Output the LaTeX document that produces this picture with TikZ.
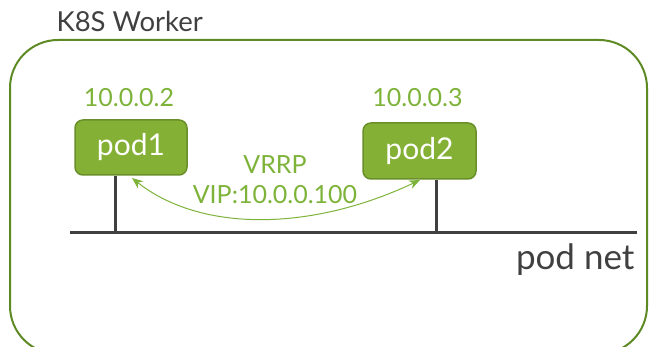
\documentclass[tikz,border=0pt]{standalone}
\usepackage{fontspec}
\setmainfont{Lato}
\usetikzlibrary{arrows.meta,calc}
\definecolor{podfill}{HTML}{84B135}
\definecolor{podedge}{HTML}{6A8F2A}
\definecolor{framegreen}{HTML}{5E8A24}
\definecolor{labgreen}{HTML}{7EB33A}
\definecolor{netgrey}{HTML}{404040}
\tikzset{
  pod/.style={draw=podedge, line width=1.5pt, fill=podfill, rounded corners=8pt,
    text=white, font=\fontsize{30}{34}\selectfont, inner sep=0pt},
  iplabel/.style={text=labgreen, font=\fontsize{25}{28}\selectfont},
  wire/.style={draw=netgrey, line width=3pt},
}
\begin{document}
\begin{tikzpicture}[x=1pt,y=-1pt]
\useasboundingbox (0,0) rectangle (649,347);
\clip (0,0) rectangle (649,347);
% worker frame
\draw[framegreen, line width=2pt, rounded corners=48pt] (10,40) rectangle (647,354);
\node[anchor=west, text=netgrey, font=\fontsize{27.5}{31}\selectfont] (worker) at (53,21) {K8S Worker};
% pods
\node[pod, minimum width=112pt, minimum height=55pt] (pod1) at (131,147.5) {pod1};
\node[pod, minimum width=113pt, minimum height=56pt] (pod2) at (419.5,151) {pod2};
\node[iplabel] (ip1) at (129,98) {10.0.0.2};
\node[iplabel] (ip2) at (417.5,98) {10.0.0.3};
% pod network
\coordinate (netL) at (70,233);
\coordinate (netR) at (637,233);
\draw[wire] (netL) -- (netR);
\coordinate (t1) at (115,233);
\coordinate (t2) at (436,233);
\draw[wire] (pod1.south -| t1) -- (t1);
\draw[wire] (pod2.south -| t2) -- (t2);
\node[anchor=east, text=netgrey, font=\fontsize{35}{40}\selectfont] (net) at (638,260) {pod net};
% VRRP link
\coordinate (a1) at (132,178);
\coordinate (a2) at (420,180);
\draw[labgreen, line width=1pt, {Stealth[length=11pt,width=9pt]}-{Stealth[length=11pt,width=9pt]}]
  (a1) .. controls (200,232) and (310,232) .. (a2);
\node[iplabel] (vrrp) at (275,165) {VRRP};
\node[iplabel] (vip) at (275,195) {VIP:10.0.0.100};
\end{tikzpicture}
\end{document}
